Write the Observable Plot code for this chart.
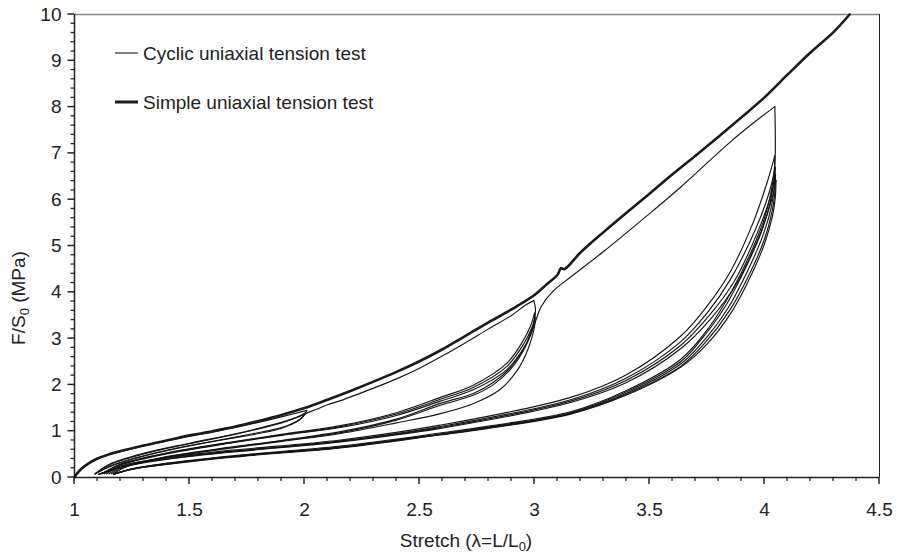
<!DOCTYPE html>
<html><head><meta charset="utf-8">
<script src="https://cdn.jsdelivr.net/npm/d3@7"></script>
<script src="https://cdn.jsdelivr.net/npm/@observablehq/plot@0.6"></script>
<style>
body{margin:0;background:#fff;}
#wrap{position:relative;width:898px;height:557px;font-family:"Liberation Sans",Arial,sans-serif;}
#overlay{position:absolute;left:0;top:0;pointer-events:none;}
</style></head><body><div id="wrap"></div>
<script>
// ---- tick values ----
const xMajor = [1, 1.5, 2, 2.5, 3, 3.5, 4, 4.5];
const yMajor = [0, 1, 2, 3, 4, 5, 6, 7, 8, 9, 10];
const xMinor = [1.1,1.2,1.3,1.4,1.6,1.7,1.8,1.9,2.1,2.2,2.3,2.4,2.6,2.7,2.8,2.9,3.1,3.2,3.3,3.4,3.6,3.7,3.8,3.9,4.1,4.2,4.3,4.4];
const yMinor = [0.2,0.4,0.6,0.8,1.2,1.4,1.6,1.8,2.2,2.4,2.6,2.8,3.2,3.4,3.6,3.8,4.2,4.4,4.6,4.8,5.2,5.4,5.6,5.8,6.2,6.4,6.6,6.8,7.2,7.4,7.6,7.8,8.2,8.4,8.6,8.8,9.2,9.4,9.6,9.8];

// ---- simple uniaxial tension test ----
const simpleTest = [[1.0,0],[1.01,0.08],[1.03,0.19],[1.06,0.30],[1.1,0.41],[1.15,0.50],[1.2,0.57],[1.3,0.69],[1.4,0.80],[1.5,0.91],[1.55,0.95],[1.6,1.00],[1.7,1.10],[1.8,1.22],[1.9,1.35],[2.0,1.50],[2.1,1.68],[2.2,1.87],[2.3,2.07],[2.4,2.28],[2.5,2.51],[2.6,2.77],[2.7,3.06],[2.8,3.35],[2.9,3.63],[3.0,3.94],[3.05,4.16],[3.1,4.38],[3.115,4.52],[3.13,4.50],[3.2,4.86],[3.3,5.30],[3.4,5.72],[3.5,6.13],[3.6,6.55],[3.7,6.95],[3.8,7.36],[3.9,7.78],[4.0,8.21],[4.1,8.70],[4.2,9.18],[4.3,9.62],[4.37,10.0]];

// ---- cyclic uniaxial tension test (segments in test order) ----
const cycLoad1 = [[1,0],[1.01,0.07],[1.03,0.18],[1.06,0.29],[1.1,0.40],[1.15,0.49],[1.2,0.56],[1.3,0.68],[1.4,0.79],[1.5,0.89],[1.6,0.98],[1.7,1.08],[1.8,1.19],[1.9,1.31],[2.01,1.45]];
const cycA_U1 = [[2.01,1.45],[2.0,1.36],[1.98,1.26],[1.94,1.15],[1.87,1.04],[1.78,0.95],[1.687,0.86],[1.5,0.69],[1.3,0.47],[1.15,0.24],[1.09,0.08]];
const cycA_R1 = [[1.09,0.08],[1.15,0.28],[1.3,0.52],[1.5,0.74],[1.687,0.93],[1.8,1.06],[1.9,1.19],[1.97,1.31],[2.005,1.40]];
const cycA_U2 = [[2.005,1.40],[1.995,1.32],[1.975,1.23],[1.935,1.13],[1.87,1.02],[1.78,0.93],[1.687,0.85],[1.5,0.68],[1.3,0.46],[1.15,0.23],[1.09,0.08]];
const cycA_R2 = [[1.09,0.08],[1.15,0.27],[1.3,0.51],[1.5,0.73],[1.687,0.92],[1.8,1.05],[1.9,1.18],[1.97,1.30],[2.005,1.38],[2.05,1.47],[2.1,1.57],[2.157,1.66],[2.3,1.93],[2.4,2.13],[2.5,2.36],[2.591,2.60],[2.7,2.91],[2.8,3.21],[2.9,3.50],[2.96,3.72],[2.997,3.82]];
const cycB_U1 = [[2.997,3.82],[3.004,3.65],[3.0,3.40],[2.985,3.15],[2.96,2.85],[2.9,2.40],[2.82,2.05],[2.736,1.82],[2.591,1.60],[2.4,1.26],[2.157,0.99],[1.9,0.80],[1.687,0.66],[1.4,0.45],[1.2,0.22],[1.105,0.07]];
const cycB_R1 = [[1.12,0.08],[1.2,0.29],[1.4,0.53],[1.687,0.77],[1.9,0.93],[2.157,1.12],[2.4,1.40],[2.591,1.73],[2.736,2.00],[2.88,2.47],[2.95,2.95],[2.985,3.30],[3.0,3.55]];
const cycB_U2 = [[3.0,3.55],[2.998,3.35],[2.985,3.12],[2.96,2.82],[2.9,2.36],[2.82,2.00],[2.736,1.78],[2.591,1.56],[2.4,1.24],[2.157,0.97],[1.9,0.79],[1.687,0.65],[1.4,0.44],[1.2,0.22],[1.105,0.07]];
const cycB_R2 = [[1.12,0.08],[1.2,0.28],[1.4,0.52],[1.687,0.76],[1.9,0.92],[2.157,1.10],[2.4,1.37],[2.591,1.69],[2.736,1.95],[2.88,2.40],[2.955,2.90],[2.99,3.25],[3.003,3.45]];
const cycB_U3 = [[3.003,3.45],[3.0,3.25],[2.99,3.05],[2.97,2.75],[2.93,2.35],[2.85,1.90],[2.736,1.60],[2.591,1.38],[2.4,1.18],[2.157,0.95],[1.9,0.78],[1.687,0.64],[1.4,0.43],[1.2,0.21],[1.11,0.07]];
const cycB_R3 = [[1.13,0.08],[1.2,0.27],[1.4,0.51],[1.687,0.75],[1.9,0.91],[2.157,1.08],[2.4,1.34],[2.591,1.65],[2.736,1.90],[2.88,2.33],[2.96,2.85],[2.993,3.20],[3.005,3.38],[3.03,3.70],[3.08,4.02],[3.157,4.33],[3.3,4.88],[3.517,5.77],[3.635,6.27],[3.852,7.25],[3.95,7.65],[4.045,8.01]];
const cycC_U1 = [[4.045,8.01],[4.047,7.40],[4.046,6.90],[4.035,6.35],[4.0,5.60],[3.94,4.85],[3.86,4.05],[3.76,3.25],[3.635,2.55],[3.4,1.88],[3.157,1.42],[2.8,1.11],[2.59,0.96],[2.157,0.68],[1.687,0.47],[1.4,0.31],[1.25,0.19],[1.17,0.07]];
const cycC_R1 = [[1.14,0.08],[1.2,0.25],[1.4,0.43],[1.687,0.59],[2.157,0.81],[2.59,1.13],[3.157,1.73],[3.4,2.22],[3.635,3.05],[3.75,3.70],[3.852,4.45],[3.95,5.50],[4.01,6.35],[4.045,6.95]];
const cycC_U2 = [[4.045,6.95],[4.043,6.50],[4.025,5.95],[3.99,5.35],[3.92,4.55],[3.83,3.70],[3.72,2.95],[3.635,2.50],[3.4,1.85],[3.157,1.40],[2.8,1.09],[2.59,0.94],[2.157,0.66],[1.687,0.46],[1.4,0.30],[1.25,0.19],[1.17,0.07]];
const cycC_R2 = [[1.15,0.08],[1.21,0.25],[1.4,0.42],[1.687,0.57],[2.157,0.79],[2.59,1.10],[3.157,1.68],[3.4,2.15],[3.635,2.93],[3.75,3.55],[3.852,4.28],[3.96,5.35],[4.02,6.15],[4.047,6.70]];
const cycC_U3 = [[4.047,6.70],[4.043,6.30],[4.03,5.85],[3.995,5.25],[3.93,4.50],[3.84,3.65],[3.73,2.92],[3.635,2.45],[3.4,1.82],[3.157,1.39],[2.8,1.08],[2.59,0.93],[2.157,0.65],[1.687,0.45],[1.4,0.29],[1.25,0.18],[1.17,0.07]];
const cycC_R3 = [[1.16,0.08],[1.22,0.24],[1.4,0.40],[1.687,0.56],[2.157,0.78],[2.59,1.08],[3.157,1.65],[3.4,2.10],[3.635,2.85],[3.76,3.50],[3.87,4.25],[3.97,5.30],[4.025,6.05],[4.048,6.55]];
const cycC_U4 = [[4.048,6.55],[4.045,6.15],[4.033,5.75],[4.0,5.15],[3.94,4.45],[3.85,3.62],[3.74,2.90],[3.635,2.40],[3.4,1.80],[3.157,1.38],[2.8,1.07],[2.59,0.93],[2.157,0.65],[1.687,0.45],[1.4,0.29],[1.25,0.18],[1.17,0.07]];
const cycC_R4 = [[1.17,0.08],[1.23,0.24],[1.4,0.39],[1.687,0.55],[2.157,0.77],[2.59,1.06],[3.157,1.62],[3.4,2.05],[3.635,2.78],[3.77,3.45],[3.88,4.20],[3.98,5.25],[4.03,5.98],[4.05,6.42]];
const cycC_U5 = [[4.05,6.42],[4.047,6.05],[4.035,5.65],[4.0,5.05],[3.945,4.40],[3.86,3.60],[3.75,2.88],[3.635,2.38],[3.4,1.78],[3.157,1.37],[2.8,1.06],[2.59,0.92],[2.157,0.64],[1.687,0.44],[1.4,0.28],[1.25,0.18],[1.17,0.07]];

const cyclicSegments = [cycLoad1, cycA_U1, cycA_R1, cycA_U2, cycA_R2, cycB_U1, cycB_R1, cycB_U2, cycB_R2, cycB_U3, cycB_R3, cycC_U1, cycC_R1, cycC_U2, cycC_R2, cycC_U3, cycC_R3, cycC_U4, cycC_R4, cycC_U5];

// ---- build tables ----
const simpleData = simpleTest.map(([x, y]) => ({x, y}));
const cyclicData = cyclicSegments.flatMap((seg, i) => seg.map(([x, y]) => ({x, y, seg: i})));

const W = 898, H = 557;
const plot = Plot.plot({
  width: W, height: H,
  marginLeft: 74, marginRight: 19, marginTop: 14, marginBottom: 80,
  x: {domain: [1, 4.5], ticks: xMajor, tickSize: 0, tickPadding: 25, tickFormat: d => String(d), label: null},
  y: {domain: [0, 10], ticks: yMajor, tickSize: 0, tickPadding: 13, tickFormat: d => String(d), label: null},
  style: {fontFamily: "'Liberation Sans', Arial, sans-serif", fontSize: "19px", color: "#222", background: "white", overflow: "visible"},
  marks: [
    Plot.ruleY([10], {stroke: "#888", strokeWidth: 1.5}),
    Plot.ruleX([4.5], {stroke: "#222", strokeWidth: 1}),
    Plot.ruleY([0], {stroke: "#222", strokeWidth: 1.5}),
    Plot.ruleX([1], {stroke: "#222", strokeWidth: 1.5}),
    Plot.line(cyclicData, {x: "x", y: "y", z: "seg", stroke: "#151515", strokeWidth: 1.15, curve: "catmull-rom", strokeLinejoin: "round"}),
    Plot.line(simpleData, {x: "x", y: "y", stroke: "#1a1a1a", strokeWidth: 2.6, curve: "catmull-rom", strokeLinejoin: "round"})
  ]
});
const wrap = document.getElementById("wrap");
wrap.appendChild(plot);

// the plot's own scales, used to place tick marks in the overlay
const sx = plot.scale("x"), sy = plot.scale("y");
const fx = sx.apply ? (v => sx.apply(v)) : d3.scaleLinear(sx.domain, sx.range);
const fy = sy.apply ? (v => sy.apply(v)) : d3.scaleLinear(sy.domain, sy.range);

// ---- overlay: ticks, axis titles and legend ----
const ov = d3.select(wrap).append("svg").attr("id", "overlay").attr("width", W).attr("height", H)
  .style("font-family", "'Liberation Sans', Arial, sans-serif").style("font-size", "19px");

const y0 = fy(0), x0 = fx(1);
const tk = ov.append("g").attr("stroke", "#222");
xMinor.forEach(v => tk.append("line").attr("x1", fx(v)).attr("x2", fx(v)).attr("y1", y0).attr("y2", y0 + 4).attr("stroke-width", 1.3));
xMajor.forEach(v => tk.append("line").attr("x1", fx(v)).attr("x2", fx(v)).attr("y1", y0).attr("y2", y0 + 7).attr("stroke-width", 1.5));
yMinor.forEach(v => tk.append("line").attr("x1", x0 - 3.5).attr("x2", x0).attr("y1", fy(v)).attr("y2", fy(v)).attr("stroke-width", 1.3));
yMajor.forEach(v => tk.append("line").attr("x1", x0 - 6.5).attr("x2", x0).attr("y1", fy(v)).attr("y2", fy(v)).attr("stroke-width", 1.5));

const xt = ov.append("text").attr("x", 466).attr("y", 547).attr("text-anchor", "middle").attr("fill", "#222");
xt.append("tspan").text("Stretch (λ=L/L");
xt.append("tspan").attr("font-size", "13px").attr("dy", 4).text("0");
xt.append("tspan").attr("dy", -4).text(")");

const yt = ov.append("text").attr("transform", "translate(25,298) rotate(-90)").attr("text-anchor", "middle").attr("fill", "#222");
yt.append("tspan").text("F/S");
yt.append("tspan").attr("font-size", "13px").attr("dy", 4).text("0");
yt.append("tspan").attr("dy", -4).text(" (MPa)");

const legendItems = [
  {label: "Cyclic uniaxial tension test", w: 1.1, y: 53},
  {label: "Simple uniaxial tension test", w: 3, y: 102}
];
legendItems.forEach(d => {
  ov.append("line").attr("x1", 115).attr("x2", 138).attr("y1", d.y).attr("y2", d.y).attr("stroke", "#1a1a1a").attr("stroke-width", d.w);
  ov.append("text").attr("x", 143).attr("y", d.y + 7).attr("fill", "#222").text(d.label);
});
</script>
</body></html>
